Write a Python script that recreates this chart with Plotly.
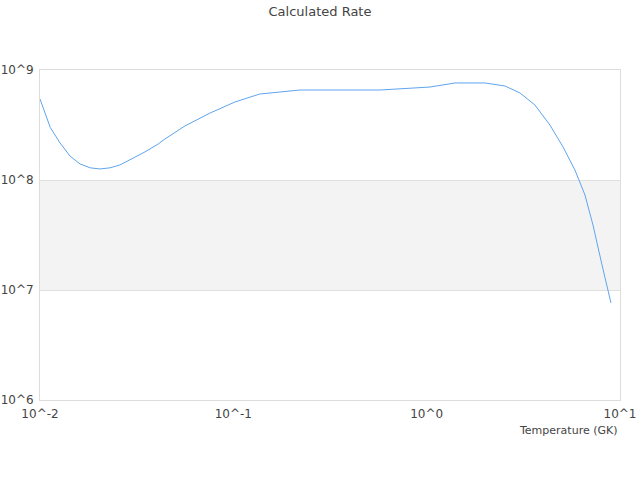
import plotly.graph_objects as go

# temperature (GK) and calculated rate
temperature = [0.0100, 0.0113, 0.0127, 0.0143, 0.0161, 0.0182, 0.0204, 0.0230, 0.0259, 0.0292,
               0.0349, 0.0408, 0.0443, 0.0562, 0.0757, 0.102, 0.122, 0.137, 0.174, 0.221,
               0.574, 0.728, 1.04, 1.40, 2.0, 2.54, 3.04, 3.63, 4.34, 5.07,
               5.85, 6.59, 7.25, 8.07, 8.98]
rate = [5.45e8, 3.0e8, 2.17e8, 1.65e8, 1.40e8, 1.29e8, 1.26e8, 1.29e8, 1.37e8, 1.52e8,
        1.80e8, 2.12e8, 2.36e8, 3.10e8, 4.06e8, 5.12e8, 5.69e8, 6.05e8, 6.31e8, 6.58e8,
        6.58e8, 6.72e8, 7.0e8, 7.62e8, 7.62e8, 7.16e8, 6.18e8, 4.81e8, 3.16e8, 2.0e8,
        1.23e8, 7.31e7, 3.89e7, 1.69e7, 7.62e6]

x_ticks = [0.01, 0.1, 1, 10]
x_labels = ["10^-2", "10^-1", "10^0", "10^1"]
y_ticks = [1e6, 1e7, 1e8, 1e9]
y_labels = ["10^6", "10^7", "10^8", "10^9"]
band = [1e7, 1e8]

font = dict(family="DejaVu Sans", size=12, color="#444444")

fig = go.Figure()
fig.add_trace(go.Scatter(x=temperature, y=rate, mode="lines",
                         line=dict(color="#5ea5ee", width=1), showlegend=False))

# shaded band between 10^7 and 10^8
fig.add_shape(type="rect", xref="paper", x0=0, x1=1, yref="y", y0=band[0], y1=band[1],
              fillcolor="#f3f3f3", line_width=0, layer="below")

fig.update_layout(
    width=640, height=480,
    margin=dict(l=40, r=20, t=70, b=80, autoexpand=False),
    paper_bgcolor="white", plot_bgcolor="white",
    font=font,
    title=dict(text="Calculated Rate", x=0.5, xanchor="center", y=0.977, yanchor="middle",
               font=dict(family="DejaVu Sans", size=13, color="#444444")),
)
fig.update_xaxes(type="log", range=[-2, 1], tickvals=x_ticks, ticktext=x_labels,
                 showgrid=False, showline=True, linecolor="#dddddd", mirror=True,
                 ticks="", zeroline=False, automargin=False, ticklabelstandoff=3)
fig.update_yaxes(type="log", range=[6, 9], tickvals=y_ticks, ticktext=y_labels,
                 showgrid=True, gridcolor="#e0e0e0", showline=True, linecolor="#dddddd",
                 mirror=True, ticks="", zeroline=False, automargin=False, ticklabelstandoff=3)

fig.add_annotation(text="Temperature (GK)", xref="paper", yref="paper", x=1, y=0,
                   xanchor="right", yanchor="top", yshift=-22, showarrow=False,
                   font=dict(family="DejaVu Sans", size=11, color="#444444"))

# drop the default page margin so the figure sits at the window's corner
fig.write_html("out.html", config={"displayModeBar": False},
               post_script="document.body.style.margin='0';")
